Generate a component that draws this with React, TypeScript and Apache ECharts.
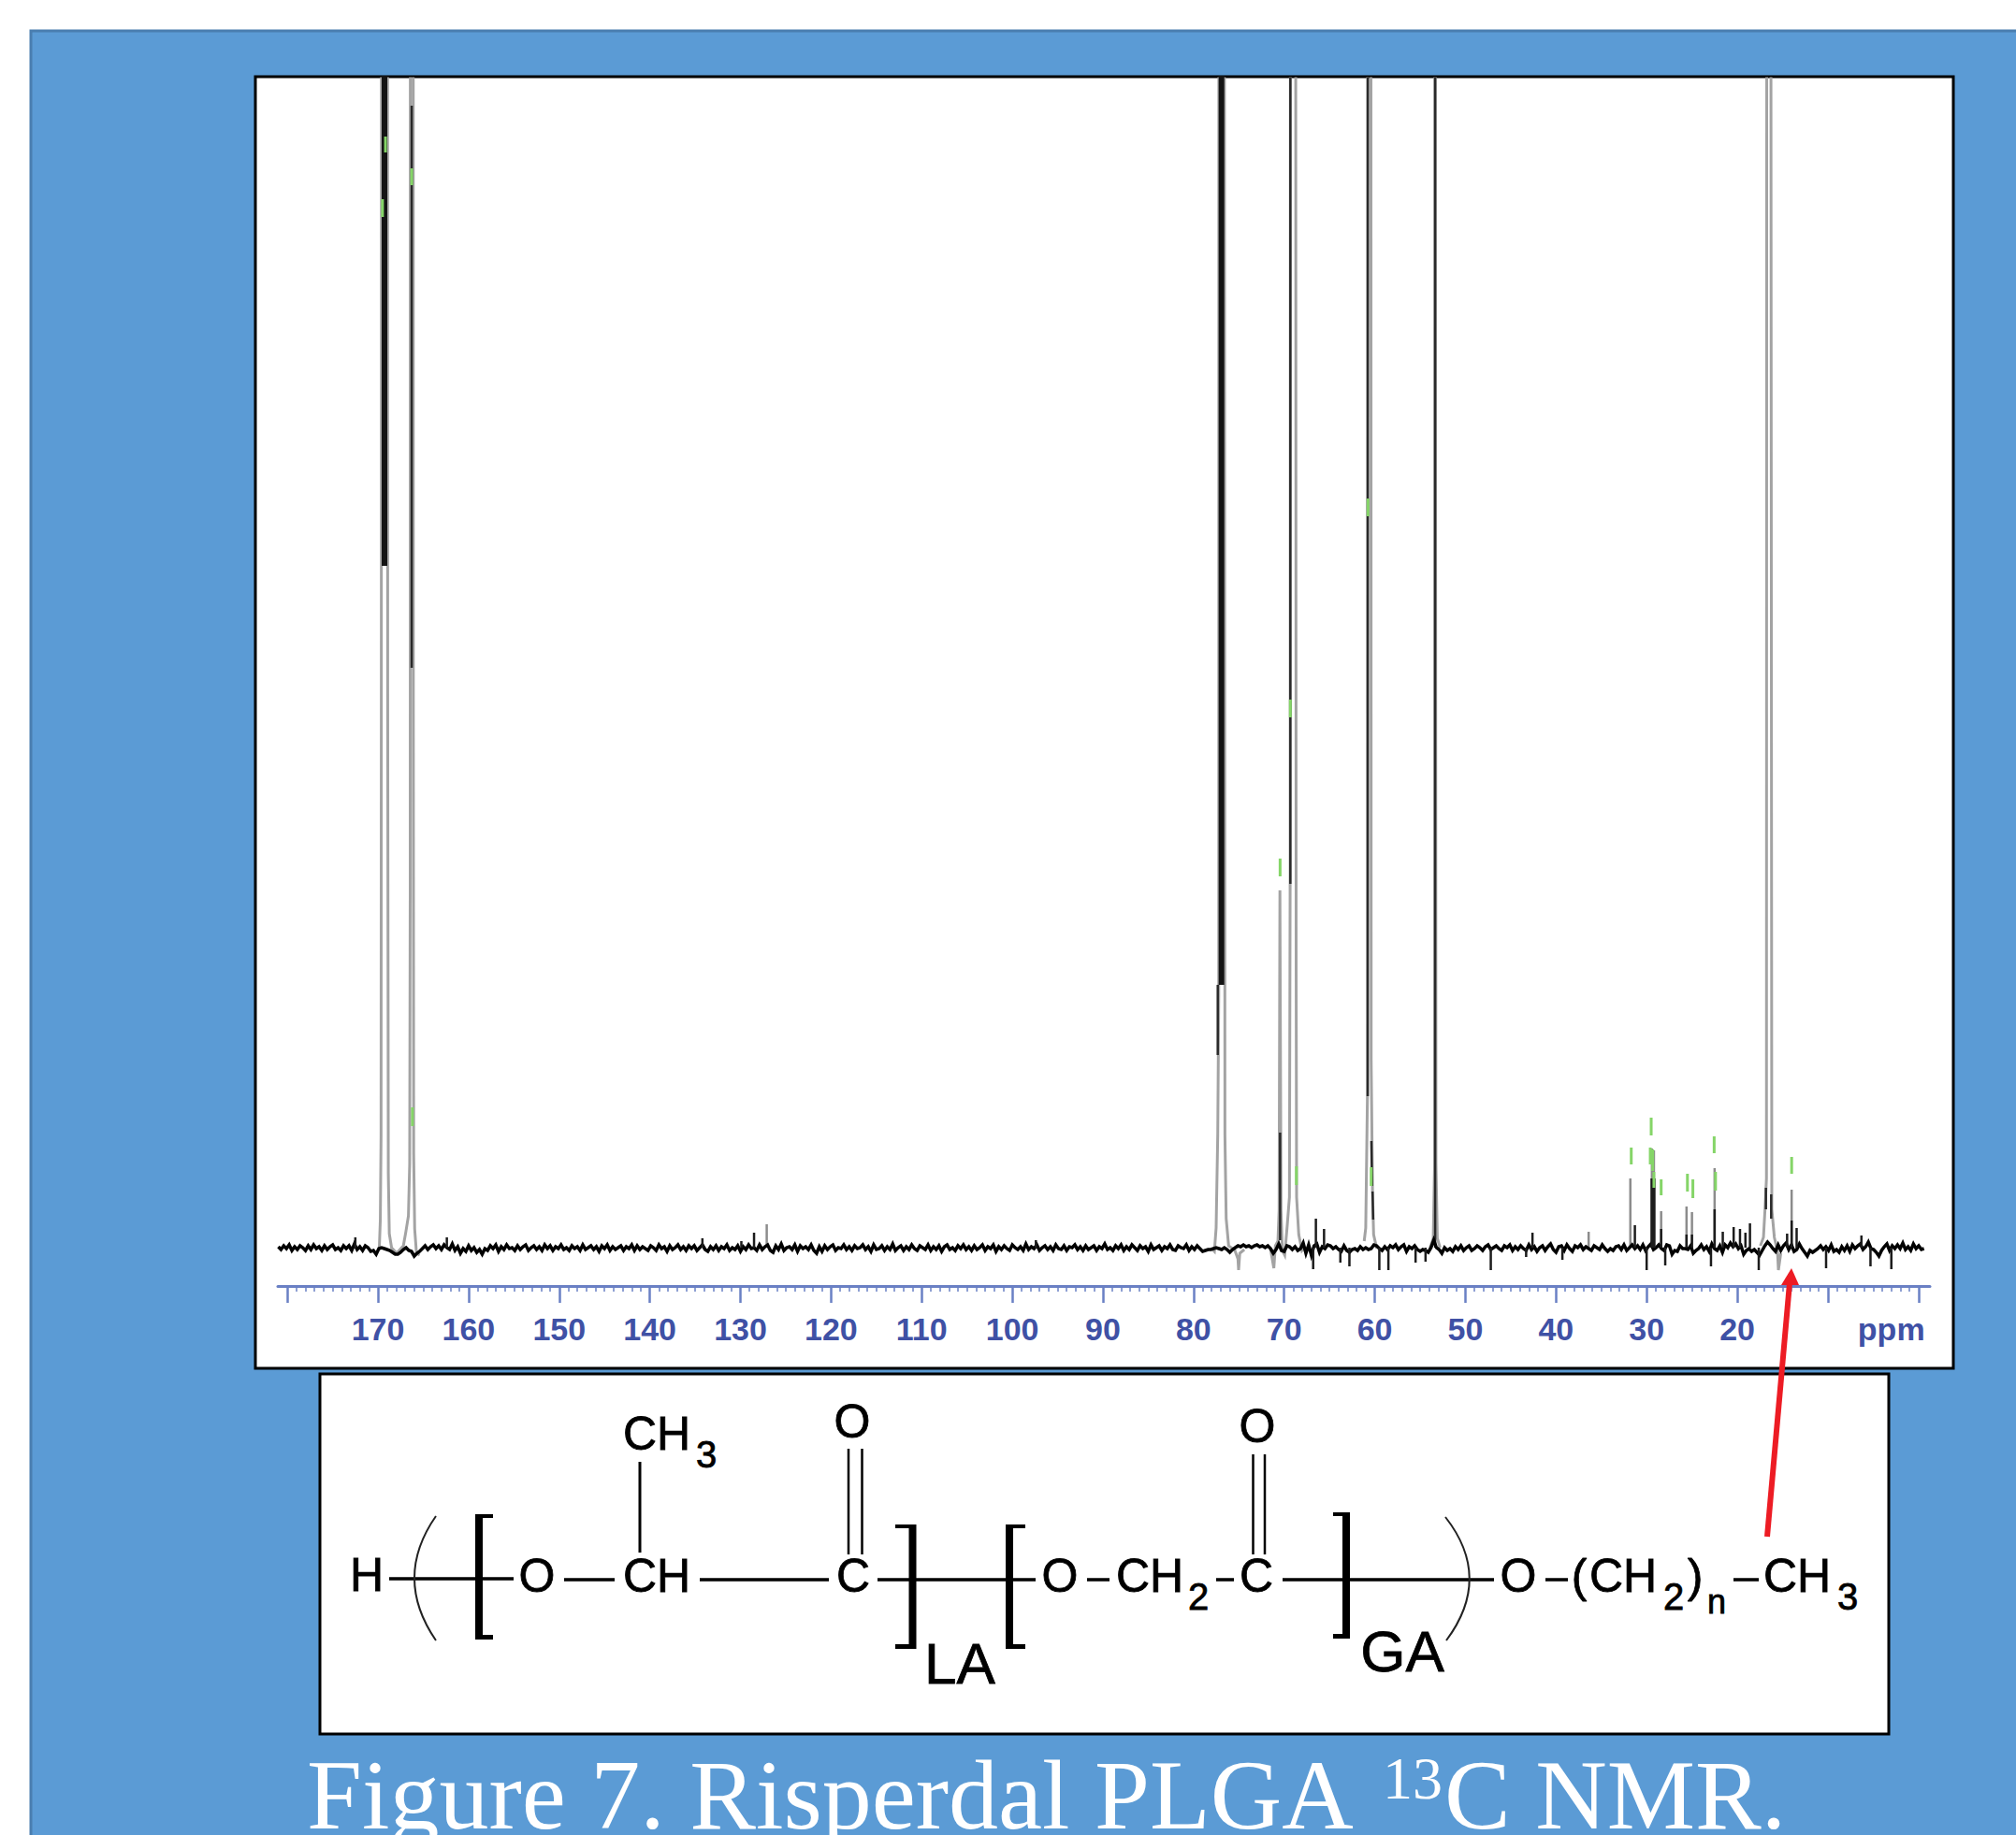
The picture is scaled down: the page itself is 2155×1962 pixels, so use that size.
import React, { useEffect, useRef } from "react";
import * as echarts from "echarts";

// ---------- tick labels ----------
const majorTicks = [180, 170, 160, 150, 140, 130, 120, 110, 100, 90, 80, 70, 60, 50, 40, 30, 20, 10, 0];
const labelledTicks = [170, 160, 150, 140, 130, 120, 110, 100, 90, 80, 70, 60, 50, 40, 30, 20, 3];
const unitTick = 3;
const unitLabel = "ppm";

// ---------- baseline noise (height above baseline) ----------
const noiseStops = [181, 151, 121, 91, 61, 31, -0.9];
const noiseA = [1,-2,2,-1,3,-3,1,-2,2,0,-3,2,-2,3,-1,1,-3,2,-2,1,3,-2,0,-3,2,-1,2,-3,4,-2,1,-3,2,0,-4,-3,-7,-1,0,-1,-2,-3,-5,-7,-7,-5,-2,0,-3,-4,-9,-6,-4,-1,2,-2,1,3,-1,2,-2,3,0,-2,4,-3,1,-6,-1,-4,2,-3,0,-5,-2,-7,-1,-3,2,-1,3,-4,1,-2,3,-1,0,-3,2,-2,1,3,-3,0,2,-2,1,-3,3,-1];
const noiseB = [2,-3,1,-1,3,-2,0,-3,2,-1,1,-3,3,-2,0,2,-2,1,-4,2,-1,3,-3,1,-2,0,2,-3,1,-1,3,-3,2,-2,1,-1,-3,2,0,-3,3,-1,1,-4,2,-2,0,3,-2,1,-3,2,-1,2,-3,0,3,-2,-4,1,-2,2,-3,1,-1,3,-3,0,-2,2,-4,1,-2,3,-1,0,-3,3,-2,1,3,-3,-5,2,-2,4,-3,0,1,-2,3,-4,2,-1,1,-2,3,-3,-6,1];
const noiseC = [-4,2,-2,1,3,-3,0,-1,3,-2,1,-3,2,-1,0,3,-2,1,-4,3,-2,-1,2,-3,1,-2,4,-3,0,2,-3,1,-2,3,-1,-3,2,0,-2,3,-3,1,-2,2,-4,1,3,-2,0,-3,2,-1,3,-2,1,-3,2,-2,0,3,-3,1,-1,3,-4,1,-2,2,-1,-3,3,0,-2,1,-3,4,-2,1,-1,3,-3,0,2,-2,1,-3,3,-1,-2,2,-3,1,0,3,-2,1,-3,2,-2,0];
const noiseD = [2,-3,1,-1,4,-2,0,-3,2,-1,3,-3,1,-2,3,0,-3,2,-1,1,-4,3,-2,0,2,-3,1,-1,3,-2,-3,2,0,-1,3,-3,1,-2,2,-1,-4,-3,-2,-2,-1,0,-1,-2,0,-2,-5,-2,0,2,1,3,1,2,0,2,3,1,2,0,2,-1,-6,-2,4,-3,-4,2,1,-2,1,-3,-1,5,-6,3,-8,2,4,-5,1,-1,3,2,-1,1,-2,-4,2,-3,-5,-2,-1,-3,1,-2];
const noiseE = [0,-2,-1,3,2,-1,-3,1,-2,2,0,3,-2,1,3,-4,1,-1,2,-2,-4,-2,-3,-5,0,8,0,-2,-6,0,-3,-1,-4,1,-2,2,-3,0,2,-3,-1,2,0,-3,1,3,-2,0,2,-1,-3,2,0,3,-3,1,-2,2,-1,-3,3,-2,1,-4,0,2,-3,1,4,-2,-5,1,2,-3,3,-1,-4,2,0,3,-2,1,-1,-3,2,0,-2,3,-1,-4,-1,-3,1,2,-2,3,-3,0,3,-1];
const noiseF = [2,-2,3,-3,1,4,-2,0,3,-1,-3,3,2,-7,-3,-4,2,-1,-1,-2,2,-6,-3,-1,3,-2,1,-4,4,-1,-3,2,-5,3,0,5,1,4,-1,2,-7,-3,-1,-4,-2,-5,-8,-3,2,6,3,-1,-4,3,-3,2,5,-2,3,-4,-2,4,-1,-5,-9,-3,-5,-3,-1,2,-2,1,-3,3,-4,-2,-5,1,-3,2,-4,3,-1,2,4,-2,1,6,-1,-2,-5,-9,-3,1,4,-3,2,-1,3,-1,5,-2,1,-3,4,-1,2,-2,-1];
const noiseChunks = [noiseA, noiseB, noiseC, noiseD, noiseE, noiseF];

// ---------- the big peaks: outlines as [ppm, height] ----------
const CLIP = 2000;
const outlineA: number[][] = [[169.85,0],[169.74,30],[169.66,120],[169.63,600],[169.6,CLIP],[168.96,CLIP],[168.93,600],[168.86,80],[168.75,15],[168.5,0],[167.94,-6],[167.2,2],[166.94,16],[166.64,34],[166.5,90],[166.44,400],[166.42,CLIP],[166.12,CLIP],[166.1,600],[166.06,100],[165.95,20],[165.75,-6],[165.4,-8]];
const outline77: number[][] = [[77.9,-2],[77.7,-4],[77.51,21],[77.33,121],[77.22,271],[77.2,CLIP],[76.63,CLIP],[76.54,121],[76.4,31],[76.13,2],[75.44,-3],[75.1,-12],[75.03,-24],[74.9,-6],[74.4,-2]];
const outline70: number[][] = [[71.5,-2],[71.14,-22],[70.97,2],[70.69,7],[70.56,40],[70.47,382],[70.43,382],[70.35,40],[70.2,-3],[69.94,-8],[69.66,24],[69.42,54],[69.34,400],[69.3,CLIP],[68.76,CLIP],[68.68,300],[68.63,54],[68.39,14],[68.04,-3],[67.7,1]];
const outline60: number[][] = [[61.17,7],[61.0,21],[60.81,164],[60.78,CLIP],[60.44,CLIP],[60.4,200],[60.25,60],[60.13,14],[59.78,-1]];
const outline53: number[][] = [[53.9,0],[53.55,10],[53.4,90],[53.36,CLIP],[53.32,CLIP],[53.25,90],[53.1,10],[52.8,0]];
const outline17: number[][] = [[17.45,2],[17.11,11],[16.94,41],[16.78,74],[16.73,CLIP],[16.34,CLIP],[16.19,41],[15.91,11],[15.56,-4],[15.46,-24],[15.2,-6]];
const peakOutlines = [outlineA, outline77, outline70, outline60, outline53, outline17];

// darker stretches of the peak outlines
const peakCores: number[][][] = [
  [[166.28,1221],[166.28,620]],
  [[77.33,281],[77.33,206]],
  [[70.45,123],[70.45,8]],
  [[69.32,CLIP],[69.32,389]],
  [[60.76,CLIP],[60.78,162]],
  [[60.38,114],[60.3,66]],
  [[60.25,60],[60.18,30]],
  [[53.34,CLIP],[53.34,0]],
  [[16.84,64],[16.84,41]],
  [[16.26,57],[16.26,31]],
];
// solid black overprinted tops
const peakBlocks: number[][][] = [
  [[169.28,CLIP],[169.28,729]],
  [[76.92,CLIP],[76.92,281]],
];

// ---------- small lines: [ppm, height] ----------
const greySticks = [[127.1,25],[36.4,17],[31.8,74],[29.42,106],[29.2,104],[28.4,39],[25.6,44],[25,38],[22.5,85],[14,62]];
const darkSticks = [[172.5,11],[162.4,11],[134.2,10],[129.9,7],[128.5,16],[97.4,8],[66.5,31],[65.6,20],[42.6,16],[31.3,24],[29.45,74],[29.3,74],[29.15,74],[28.4,20],[25.6,14],[25,14],[22.5,41],[21.6,17],[20.4,22],[19.7,20],[19.1,16],[18.6,26],[14.5,15],[14,29],[13.45,21],[6.3,13]];
const dipSticks = [[66.8,-23],[63.8,-16],[62.8,-20],[59.5,-24],[58.5,-24],[55.5,-16],[54.4,-15],[47.2,-24],[43.3,-10],[39.3,-13],[30,-24],[27.95,-19],[22.9,-20],[17.63,-24],[10.2,-22],[5.3,-20],[3,-23]];

// ---------- green assignment marks: [ppm, from height, to height] ----------
const assignmentMarks = [
  [169.17,1171,1188],[169.5,1102,1121],[166.28,1136,1154],[166.2,130,150],[60.75,782,801],[69.32,567,586],
  [70.45,397,416],[68.65,67,87],[60.4,66,86],[31.7,89,107],[29.5,120,139],[29.6,89,107],[29.33,82,105],[29.2,64,81],[28.4,56,73],[25.5,60,79],[24.9,53,73],[22.55,101,119],[22.4,61,81],[14,79,97],
];

// ---------- drawing of the repeat unit ----------
const frameColor = "#000000";
const moleculeTexts: [string, number, number, number][] = [
  ["H",392,1684,50],["O",574,1685,50],["CH",702,1685,50],["C",912,1685,50],
  ["CH",702,1533,50],["3",755,1555,40],["O",911,1520,50],
  ["LA",1026,1778,62],["O",1133,1685,50],["CH",1229,1685,50],["2",1281,1707,40],["C",1343,1685,50],
  ["O",1344,1525,50],["GA",1499,1765,62],["O",1623,1685,50],["(",1688,1685,50],["CH",1735,1685,50],
  ["2",1789,1707,40],[")",1812,1685,50],["n",1835,1712,36],["CH",1921,1685,50],["3",1975,1707,40],
];
const moleculeBonds: [number, number, number, number, number][] = [
  [416,1688,549,1688,3.5],[603,1689,657,1689,3.5],[748,1689,886,1689,3.5],[938,1689,1107,1689,3.5],
  [684,1563,684,1660,3],[907,1549,907,1662,2.5],[921.5,1549,921.5,1662,2.5],
  [1162,1689,1186,1689,3.5],[1300,1689,1319,1689,3.5],[1339.5,1555,1339.5,1662,2.5],[1352,1555,1352,1662,2.5],
  [1371,1689,1597,1689,3.5],[1652,1689,1676,1689,3.5],[1853,1689,1880,1689,3.5],
];
const moleculeBrackets: [number, number, number, number][] = [
  [508,1619,8,134],[508,1619,19,4],[508,1748,19,5],
  [971.5,1630,8,133],[957,1630,22,4],[957,1758,22,5],
  [1075,1630,8,133],[1075,1630,21,4],[1075,1758,21,5],
  [1435,1617,8,135],[1425,1617,18,4],[1425,1747,18,5],
];
const moleculeArcs: [number, number, number, number, number, number][] = [
  [466,1621,420,1687,466,1754],[1545,1622,1596,1687,1546,1754],
];

const captionLead = "Figure 7. Risperdal PLGA ";
const captionSup = "13";
const captionTail = "C NMR.";

function gapJoin(parts: number[][][]): number[][] {
  const out: number[][] = [];
  parts.forEach((p) => { p.forEach((q) => out.push(q)); out.push([NaN, NaN]); });
  return out;
}
function sticks(list: number[][]): number[][][] {
  return list.map(([p, h]) => [[p, 0], [p, h]]);
}
function noiseData(): number[][] {
  const out: number[][] = [];
  noiseChunks.forEach((chunk, c) => {
    const a = noiseStops[c], b = noiseStops[c + 1];
    chunk.forEach((v, i) => out.push([a + ((b - a) * i) / chunk.length, v]));
  });
  return out;
}

const lineSeries = (name: string, data: number[][], color: string, width: number, z: number) => ({
  name, type: "line", data, showSymbol: false, symbol: "none", silent: true, z,
  xAxisIndex: 0, yAxisIndex: 0, clip: true, connectNulls: false,
  lineStyle: { color, width, cap: "butt", join: "miter" },
});

export default function App() {
  const ref = useRef<HTMLDivElement>(null);
  useEffect(() => {
    const chart = echarts.init(ref.current!, undefined, { renderer: "svg" });
    const sans = "'Liberation Sans', Arial, sans-serif";
    const serif = "'Liberation Serif', 'Times New Roman', serif";
    const axisBlue = "#6A80C4";
    const minorValues = Array.from({ length: 181 }, (_, i) => i).filter((v) => v % 10 !== 0);
    const axisMin = -1.26;
    const axisMax = 181.05;

    const graphic: any[] = [
      { type: "rect", z: -30, shape: { x: 33, y: 33, width: 2130, height: 1940 }, style: { fill: "#5B9BD5", stroke: "#4A7EB0", lineWidth: 3 } },
      { type: "rect", z: -20, shape: { x: 273, y: 82, width: 1815, height: 1381 }, style: { fill: "#ffffff", stroke: frameColor, lineWidth: 3 } },
      { type: "rect", z: -20, shape: { x: 342, y: 1469, width: 1677, height: 385 }, style: { fill: "#ffffff", stroke: frameColor, lineWidth: 3 } },
    ];
    moleculeBonds.forEach(([x1, y1, x2, y2, w]) =>
      graphic.push({ type: "line", z: 5, shape: { x1, y1, x2, y2 }, style: { stroke: "#000", lineWidth: w } }));
    moleculeBrackets.forEach(([x, y, width, height]) =>
      graphic.push({ type: "rect", z: 5, shape: { x, y, width, height }, style: { fill: "#000" } }));
    moleculeArcs.forEach(([x1, y1, cx, cy, x2, y2]) =>
      graphic.push({ type: "bezierCurve", z: 5, shape: { x1, y1, cpx1: cx, cpy1: cy, x2, y2 }, style: { stroke: "#222", lineWidth: 2, fill: null } }));
    moleculeTexts.forEach(([text, x, y, fontSize]) =>
      graphic.push({ type: "text", z: 6, x, y, style: { text, fontSize, fontFamily: sans, fill: "#000", stroke: "#000", lineWidth: 0.8, align: "center", verticalAlign: "middle" } }));
    graphic.push(
      { type: "line", z: 10, shape: { x1: 1889, y1: 1643, x2: 1913, y2: 1372 }, style: { stroke: "#ED1C24", lineWidth: 6 } },
      { type: "polygon", z: 10, shape: { points: [[1915, 1356], [1904, 1374], [1923, 1374]] }, style: { fill: "#ED1C24" } },
      { type: "text", z: 6, x: 328, y: 1919, style: { text: captionLead, fontSize: 106, lineHeight: 84, fontFamily: serif, fill: "#fff", align: "left", verticalAlign: "middle" } },
      { type: "text", z: 6, x: 1478, y: 1901, style: { text: captionSup, fontSize: 64, fontFamily: serif, fill: "#fff", align: "left", verticalAlign: "middle" } },
      { type: "text", z: 6, x: 1544, y: 1919, style: { text: captionTail, fontSize: 106, lineHeight: 84, fontFamily: serif, fill: "#fff", align: "left", verticalAlign: "middle" } },
    );

    chart.setOption({
      animation: false,
      backgroundColor: "#ffffff",
      graphic,
      grid: { left: 297, top: 84, width: 1766, height: 1291, containLabel: false },
      yAxis: { type: "value", min: -41, max: 1250, show: false },
      xAxis: [
        {
          type: "value", inverse: true, min: axisMin, max: axisMax, position: "bottom",
          splitLine: { show: false },
          axisLine: { show: true, onZero: false, lineStyle: { color: axisBlue, width: 3 } },
          axisTick: { show: true, length: 18, customValues: majorTicks, lineStyle: { color: axisBlue, width: 2.5 } },
          axisLabel: {
            show: true, margin: 29, customValues: labelledTicks, fontSize: 34, fontWeight: "bold",
            fontFamily: sans, color: "#3F51A5",
            formatter: (v: number) => (v === unitTick ? unitLabel : String(v)),
          },
        },
        {
          type: "value", inverse: true, min: axisMin, max: axisMax, position: "bottom",
          splitLine: { show: false },
          axisLine: { show: false, onZero: false },
          axisTick: { show: true, length: 6, customValues: minorValues, lineStyle: { color: axisBlue, width: 1.5 } },
          axisLabel: { show: false },
        },
      ],
      series: [
        lineSeries("peak outlines", gapJoin(peakOutlines), "#A3A3A3", 3, 2),
        lineSeries("small lines", gapJoin(sticks(greySticks)), "#8C8C8C", 2.5, 2),
        lineSeries("peak cores", gapJoin(peakCores), "#2A2A2A", 2.5, 3),
        lineSeries("peak blocks", gapJoin(peakBlocks), "#141414", 6, 3),
        lineSeries("baseline", noiseData(), "#000000", 3.5, 4),
        lineSeries("small dark lines", gapJoin(sticks(darkSticks)), "#1C1C1C", 2.5, 4),
        lineSeries("dips", gapJoin(sticks(dipSticks)), "#1C1C1C", 2.5, 4),
        lineSeries("assignments", gapJoin(assignmentMarks.map(([p, a, b]) => [[p, a], [p, b]])), "#85D568", 3, 6),
      ],
    });
    return () => chart.dispose();
  }, []);
  return <div ref={ref} style={{ position: "absolute", left: 0, top: 0, width: 2155, height: 1962, overflow: "hidden" }} />;
}
